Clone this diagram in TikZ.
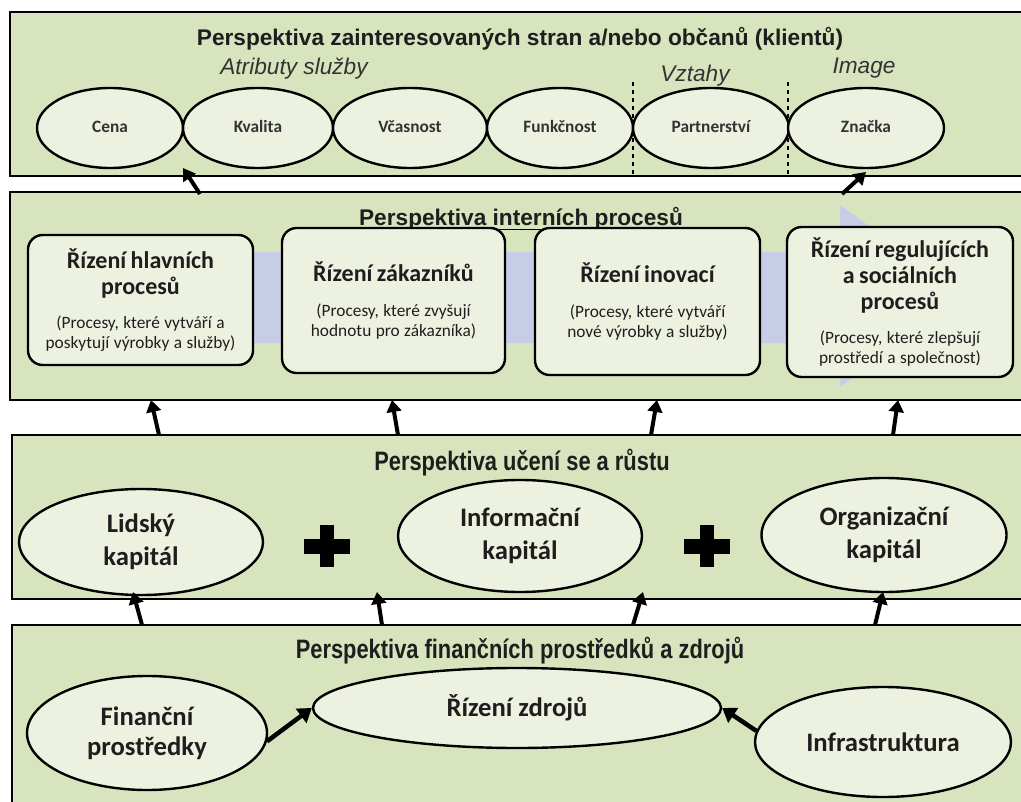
\documentclass[tikz,border=0pt]{standalone}
\usepackage{fontspec}
\setmainfont{Carlito}
\newfontfamily\arialfont{Liberation Sans}
\newfontfamily\narrowfont[FakeStretch=0.82]{Liberation Sans}
\usetikzlibrary{shapes.geometric,arrows.meta}

\definecolor{panelgreen}{HTML}{D7E4BD}
\definecolor{ovalfill}{HTML}{EDF2E0}
\definecolor{flowblue}{HTML}{C7CDE7}
\definecolor{ink}{HTML}{1E1E1E}
\definecolor{softink}{HTML}{333333}

% title + explanatory subtitle inside a process box
\newcommand\proctext[2]{%
  {\fontsize{18}{19.5}\selectfont\bfseries #1\par}%
  \vspace{11pt}%
  {\fontsize{13}{15}\selectfont #2\par}}

\begin{document}
\begin{tikzpicture}[x=0.75pt,y=-0.75pt,
  panel/.style={draw=black, line width=1.6pt, fill=panelgreen},
  oval/.style={ellipse, draw=black, line width=1.8pt, fill=ovalfill,
    inner sep=0pt, text=ink, align=center},
  attroval/.style={ellipse, draw=black, line width=1.8pt, fill=ovalfill,
    inner sep=0pt, minimum height=60pt, text height=9pt, text depth=2.5pt,
    font=\bfseries\fontsize{13}{15}\selectfont, text=softink},
  bigoval/.style={oval, font=\bfseries\fontsize{20}{25}\selectfont},
  procbox/.style={draw=black, line width=1.8pt, fill=ovalfill,
    rounded corners=11pt, inner sep=0pt, text width=165pt, align=center,
    text=ink},
  headline/.style={anchor=base, inner sep=0pt, text=ink,
    font=\arialfont\bfseries\fontsize{17}{20}\selectfont},
  narrowhead/.style={anchor=base, inner sep=0pt, text=ink,
    font=\narrowfont\bfseries\fontsize{20}{24}\selectfont},
  grouplab/.style={anchor=base, inner sep=0pt, text=softink,
    font=\arialfont\itshape\fontsize{17}{20}\selectfont},
  arr/.style={draw=black, line width=3pt,
    -{Triangle[width=11pt,length=9pt]}},
  bigarr/.style={draw=black, line width=3.4pt,
    -{Triangle[width=13pt,length=10pt]}},
  plusbar/.style={fill=black}
]
\useasboundingbox (0,0) rectangle (1021,802);
\clip (0,0) rectangle (1021,802);
\fill[white] (0,0) rectangle (1021,802);

% ---------- the four perspective panels ----------
\draw[panel] (10,12) rectangle (1030,176);
\draw[panel] (10,192) rectangle (1030,400);
\draw[panel] (12,435) rectangle (1030,599);
\draw[panel] (12,625) rectangle (1030,830);

% ---------- stakeholders / citizens ----------
\node[headline] (t1) at (520,46)
  {Perspektiva zainteresovaných stran a/nebo občanů (klientů)};
\node[grouplab] (gattr) at (294,75) {Atributy služby};
\node[grouplab] (grel) at (695,82) {Vztahy};
\node[grouplab] (gimg) at (864,74) {Image};

\draw[dashed, line width=0.8pt] (633,82) -- (633,174);
\draw[dashed, line width=0.8pt] (788,82) -- (788,174);

\node[attroval, minimum width=109.5pt] (cena) at (110,128) {Cena};
\node[attroval, minimum width=112.5pt] (kval) at (258,128) {Kvalita};
\node[attroval, minimum width=115.5pt] (vcas) at (410,128) {Včasnost};
\node[attroval, minimum width=109.5pt] (funk) at (560,128) {Funkčnost};
\node[attroval, minimum width=117pt] (part) at (711,128) {Partnerství};
\node[attroval, minimum width=117pt] (znac) at (866,128) {Značka};

% ---------- internal processes ----------
\fill[flowblue] (60,252) -- (840,252) -- (840,205) -- (965,296)
  -- (840,387) -- (840,343) -- (60,343) -- cycle;

\node[headline] (t2) at (521,226) {Perspektiva interních procesů};
\draw[line width=1.3pt] ([yshift=-2.6pt]t2.base west) -- ([yshift=-2.6pt]t2.base east);

\node[procbox, minimum width=168.75pt, minimum height=97.5pt] (p1) at (140.5,300)
  {\proctext{Řízení hlavních\\procesů}{(Procesy, které vytváří a\\poskytují výrobky a služby)}};
\node[procbox, minimum width=167.25pt, minimum height=108.75pt] (p2) at (393.5,300.5)
  {\proctext{Řízení zákazníků}{(Procesy, které zvyšují\\hodnotu pro zákazníka)}};
\node[procbox, minimum width=168.75pt, minimum height=110.25pt] (p3) at (647.5,301.5)
  {\proctext{Řízení inovací}{(Procesy, které vytváří\\nové výrobky a služby)}};
\node[procbox, minimum width=169.5pt, minimum height=112.5pt] (p4) at (900,302)
  {\proctext{Řízení regulujících\\a sociálních\\procesů}{(Procesy, které zlepšují\\prostředí a společnost)}};

% ---------- learning and growth ----------
\node[narrowhead] (t3) at (522,470) {Perspektiva učení se a růstu};
\node[bigoval, minimum width=183pt, minimum height=79.5pt] (lid) at (141,542) {Lidský\\kapitál};
\node[bigoval, minimum width=183pt, minimum height=84pt] (inf) at (520,536) {Informační\\kapitál};
\node[bigoval, minimum width=183.75pt, minimum height=85.5pt] (org) at (884,535) {Organizační\\kapitál};

\fill[plusbar] (304,539) rectangle (350,554);
\fill[plusbar] (320,525) rectangle (334,567);
\fill[plusbar] (684,539) rectangle (730,554);
\fill[plusbar] (700,525) rectangle (714,567);

% ---------- finance and resources ----------
\node[narrowhead] (t4) at (520,658) {Perspektiva finančních prostředků a zdrojů};
\node[bigoval, minimum width=180pt, minimum height=85.5pt,
  font=\bfseries\fontsize{20}{22.5}\selectfont] (fin) at (147,733) {Finanční\\prostředky};
\node[bigoval, minimum width=306pt, minimum height=60pt] (riz) at (517,708) {Řízení zdrojů};
\node[bigoval, minimum width=192pt, minimum height=82.5pt] (infra) at (883,742) {Infrastruktura};

\draw[bigarr] (fin.-4) -- (riz.west);
\draw[bigarr] (infra.175) -- (riz.east);

% ---------- links between the perspectives ----------
\coordinate (u1s) at (200,194); \coordinate (u1e) at (183,168);
\coordinate (u2s) at (842,194); \coordinate (u2e) at (866,172);
\draw[arr] (u1s) -- (u1e);
\draw[arr] (u2s) -- (u2e);

\coordinate (a1s) at (159,435); \coordinate (a1e) at (151,400);
\coordinate (a2s) at (398,435); \coordinate (a2e) at (392,400);
\coordinate (a3s) at (651,435); \coordinate (a3e) at (657,400);
\coordinate (a4s) at (893,435); \coordinate (a4e) at (898,400);
\foreach \k in {1,2,3,4} \draw[arr] (a\k s) -- (a\k e);

\coordinate (b1s) at (142,625); \coordinate (b1e) at (133,592);
\coordinate (b2s) at (382,625); \coordinate (b2e) at (377,592);
\coordinate (b3s) at (633,625); \coordinate (b3e) at (643,592);
\coordinate (b4s) at (875,625); \coordinate (b4e) at (883,592);
\foreach \k in {1,2,3,4} \draw[arr] (b\k s) -- (b\k e);
\end{tikzpicture}
\end{document}
